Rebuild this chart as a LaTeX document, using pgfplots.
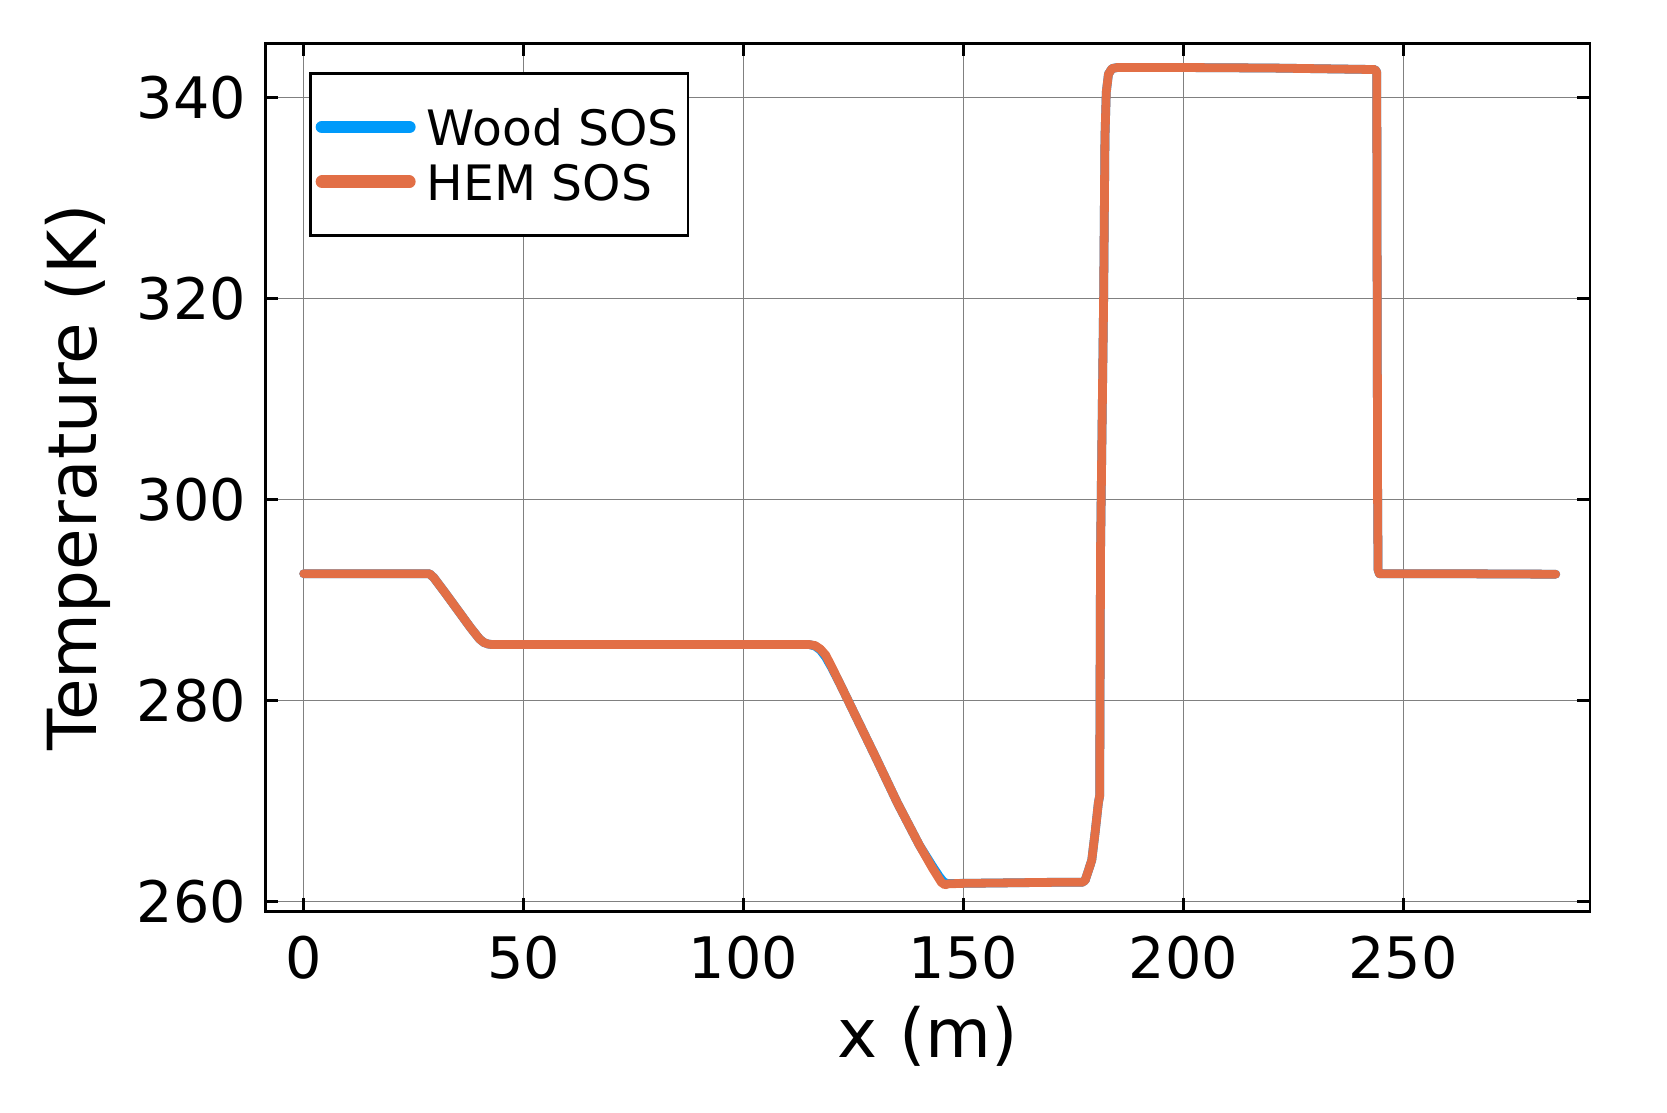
\documentclass[border=0pt]{standalone}
\usepackage{fontspec}
\setmainfont{DejaVu Sans}
\usepackage{pgfplots}
\pgfplotsset{compat=1.18}

\definecolor{woodblue}{RGB}{0,154,250}
\definecolor{hemorange}{RGB}{226,111,70}

% temperature profiles along the pipe
\pgfplotstableread{
x T
0 292.6
10 292.6
20 292.6
28.6 292.6
29.6 292.2
32 290.8
35 289.0
38 287.2
40 286.1
41 285.75
42 285.6
43 285.55
60 285.55
80 285.55
100 285.55
115 285.55
116.3 285.4
117.5 285.0
118.7 284.3
120 283.3
122 281.6
125 278.9
130 274.4
135 269.8
140 265.6
143 263.5
144.5 262.5
145.5 261.95
146.4 261.78
150 261.8
160 261.85
170 261.9
177.0 261.9
177.7 262.1
178.3 262.9
179.2 264.1
180.0 267.0
180.7 269.8
181.0 270.5
181.2 295
181.9 320
182.2 336
182.5 340.5
183.0 342.3
183.8 342.85
185 342.95
200 342.95
220 342.9
243.6 342.75
244.0 342.5
244.1 320
244.2 300
244.3 293.0
244.6 292.6
260 292.6
284.7 292.55
}\wooddata

\pgfplotstableread{
x T
0 292.6
10 292.6
20 292.6
28.6 292.6
29.6 292.2
32 290.8
35 289.0
38 287.2
40 286.1
41 285.75
42 285.6
43 285.55
60 285.55
80 285.55
100 285.55
115 285.55
116.3 285.45
117.5 285.1
118.7 284.5
120 283.4
122 281.6
125 278.9
130 274.4
135 269.8
140 265.6
143 263.3
145 261.9
145.8 261.65
146.6 261.75
150 261.8
160 261.85
170 261.9
177.0 261.9
177.7 262.1
178.3 262.9
179.2 264.1
180.0 267.0
180.7 269.8
181.0 270.5
181.2 295
181.9 320
182.2 336
182.5 340.5
183.0 342.3
183.8 342.85
185 342.95
200 342.95
220 342.9
243.6 342.75
244.0 342.5
244.1 320
244.2 300
244.3 293.0
244.6 292.6
260 292.6
284.7 292.55
}\hemdata

\begin{document}
\begin{tikzpicture}
\useasboundingbox (-66.3pt,-50.1pt) rectangle (350.45pt,227.9pt);
\begin{axis}[
    at={(0,0)}, anchor=south west,
    scale only axis,
    width=331.2pt, height=217.1pt,
    xmin=-8.75, xmax=292.5,
    ymin=258.99, ymax=345.37,
    xtick={0,50,...,250},
    ytick={260,280,...,340},
    grid=major,
    grid style={line width=0.3pt, black!50},
    axis line style={line width=0.7pt},
    tick style={line width=0.75pt, black},
    major tick length=3.3pt,
    tick align=inside,
    /pgf/number format/assume math mode=true,
    tick label style={font=\fontsize{14.3}{17}\selectfont},
    xticklabel style={yshift=-2.65pt},
    yticklabel style={xshift=-1.3pt},
    xlabel={x (m)},
    ylabel={Temperature (K)},
    every axis x label/.style={at={(axis description cs:0.5,-0.1439)}, anchor=center,
        font=\fontsize{16.9}{20}\selectfont},
    every axis y label/.style={at={(axis description cs:-0.1413,0.5)}, rotate=90, anchor=center,
        font=\fontsize{16.9}{20}\selectfont},
    legend style={
        at={(axis description cs:0.0331,0.967)}, anchor=north west,
        draw=black, line width=0.7pt,
        font=\fontsize{12.2}{15}\selectfont,
        inner xsep=1.3pt, inner ysep=6.6pt,
        nodes={inner sep=1pt, text height=10.5pt, text depth=1.2pt},
        column sep=1.8pt,
    },
    legend cell align=left,
    legend image code/.code={
        \draw[line width=3.2pt, line cap=round] (1.6pt,0pt) -- (23.4pt,0pt);
    },
]
\addplot[woodblue, line width=2.2pt, line join=round, line cap=round] table[x=x, y=T] {\wooddata};
\addplot[hemorange, line width=2.2pt, line join=round, line cap=round] table[x=x, y=T] {\hemdata};
\legend{Wood SOS, HEM SOS}
\end{axis}
\end{tikzpicture}
\end{document}
